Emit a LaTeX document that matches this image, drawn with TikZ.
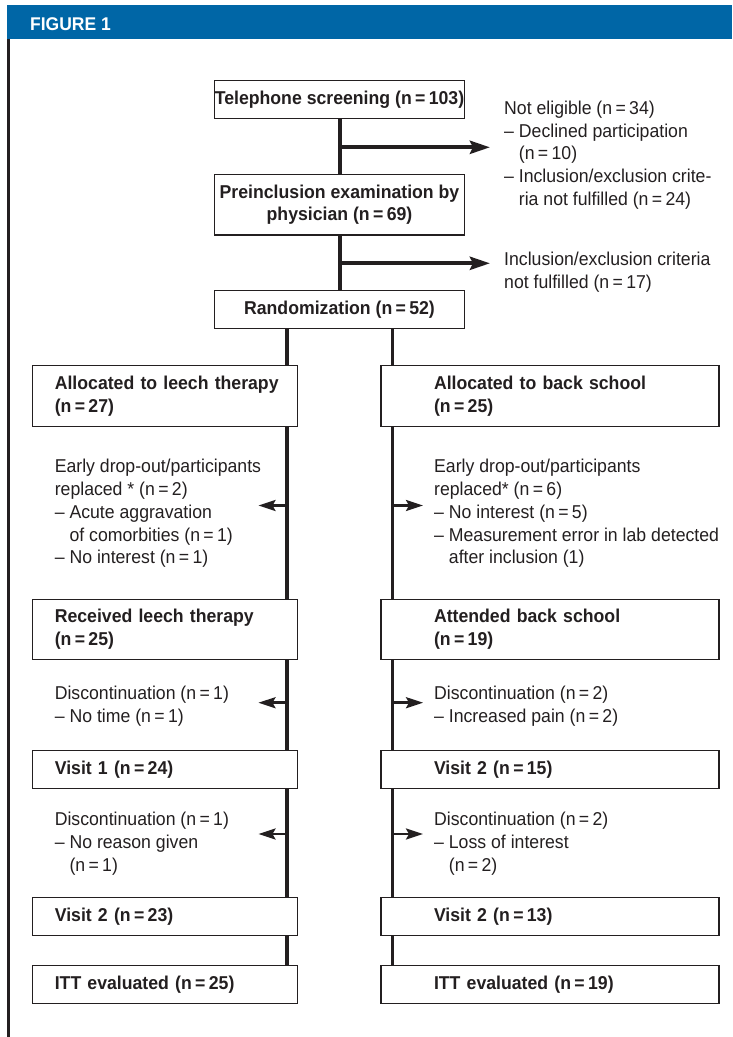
\documentclass[tikz,border=0pt]{standalone}
\usepackage{fontspec}
\setmainfont{Liberation Sans}[FakeStretch=0.95]
\usetikzlibrary{arrows.meta}
\definecolor{hdrblue}{RGB}{0,102,166}
\definecolor{ink}{RGB}{35,31,32}
\newcommand{\eqs}{\kern0.18em=\kern0.18em}
\newcommand{\tstr}{\rule{0pt}{15pt}}
\newcommand{\ind}{\hphantom{– }}
\newcommand{\li}{\hspace*{22.3pt}}
\newcommand{\ri}{\hspace*{53pt}}
\begin{document}
\begin{tikzpicture}[x=1pt,y=-1pt,
  txt/.style={font=\fontsize{18.6pt}{22.8pt}\selectfont, text=ink},
  cbox/.style={txt, draw=ink, line width=1.3pt, fill=white, inner sep=0pt, align=center, font=\fontsize{18.6pt}{22.8pt}\selectfont\bfseries, minimum width=250pt},
  lbox/.style={txt, draw=ink, line width=1.3pt, fill=white, inner sep=0pt, align=left, font=\fontsize{18.6pt}{22.8pt}\selectfont\bfseries, text width=264.8pt},
  rbox/.style={txt, draw=ink, line width=1.3pt, fill=white, inner sep=0pt, align=left, font=\fontsize{18.6pt}{22.8pt}\selectfont\bfseries, text width=338pt},
  note/.style={txt, anchor=north west, inner sep=0pt, align=left},
  trunk/.style={draw=ink, line width=4pt},
  col/.style={draw=ink, line width=3.2pt},
  bigarrow/.style={draw=ink, line width=4pt, -{Stealth[length=20pt,width=13pt,inset=3pt]}},
  smallarrow/.style={draw=ink, line width=2.6pt, -{Stealth[length=17pt,width=11pt,inset=3pt]}}
]
\useasboundingbox (0,0) rectangle (732,1037);
% header
\fill[hdrblue] (6.7,5) rectangle (732,38.5);
\node[anchor=base west, inner sep=0pt, text=white, font=\fontsize{18.4pt}{22pt}\selectfont\bfseries] (fig) at (30,30.7) {FIGURE 1};
\draw[ink, line width=2.7pt] (8.7,38.5) -- (8.7,1037);

% central boxes
\node[cbox, minimum height=38pt] (tel) at (339.5,99.7) {Telephone screening (n\eqs 103)};
\node[cbox, minimum height=60.7pt] (pre) at (339.5,204.7) {Preinclusion examination by\\physician (n\eqs 69)};
\node[cbox, minimum height=38pt] (rand) at (339.5,309.7) {Randomization (n\eqs 52)};

% trunk
\draw[trunk] (tel.south) -- (pre.north);
\draw[trunk] (pre.south) -- (rand.north);
\coordinate (a1s) at (339.5,147.3);
\coordinate (a1e) at (490,147.3);
\coordinate (a2s) at (339.5,263.3);
\coordinate (a2e) at (490,263.3);
\draw[bigarrow] (a1s) -- (a1e);
\draw[bigarrow] (a2s) -- (a2e);

\node[note] (ne) at (504,114-15) {\tstr Not eligible (n\eqs 34)\\– Declined participation\\\ind(n\eqs 10)\\– Inclusion/exclusion crite-\\\ind ria not fulfilled (n\eqs 24)};
\node[note] (inc) at (504,265.5-15) {\tstr Inclusion/exclusion criteria\\not fulfilled (n\eqs 17)};

% column boxes
\node[lbox, minimum height=61pt] (allocL) at (164.9,396.2) {\li Allocated to leech therapy\\\li (n\eqs 27)};
\node[rbox, minimum height=61pt] (allocR) at (550,396.2) {\ri Allocated to back school\\\ri (n\eqs 25)};
\node[lbox, minimum height=60pt] (recvL) at (164.9,629.3) {\li Received leech therapy\\\li (n\eqs 25)};
\node[rbox, minimum height=60pt] (recvR) at (550,629.3) {\ri Attended back school\\\ri (n\eqs 19)};
\node[lbox, minimum height=37.6pt] (v1L) at (164.9,769.5) {\li Visit 1 (n\eqs 24)};
\node[rbox, minimum height=37.6pt] (v1R) at (550,769.5) {\ri Visit 2 (n\eqs 15)};
\node[lbox, minimum height=38pt] (v2L) at (164.9,916.3) {\li Visit 2 (n\eqs 23)};
\node[rbox, minimum height=38pt] (v2R) at (550,916.3) {\ri Visit 2 (n\eqs 13)};
\node[lbox, minimum height=38pt] (ittL) at (164.9,984.3) {\li ITT evaluated (n\eqs 25)};
\node[rbox, minimum height=38pt] (ittR) at (550,984.3) {\ri ITT evaluated (n\eqs 19)};

% column lines
\coordinate (colL) at (287,0);
\coordinate (colR) at (392.5,0);
\draw[col] (rand.south -| colL) -- (allocL.north -| colL);
\draw[col] (allocL.south -| colL) -- (recvL.north -| colL);
\draw[col] (recvL.south -| colL) -- (v1L.north -| colL);
\draw[col] (v1L.south -| colL) -- (v2L.north -| colL);
\draw[col] (v2L.south -| colL) -- (ittL.north -| colL);
\draw[col] (rand.south -| colR) -- (allocR.north -| colR);
\draw[col] (allocR.south -| colR) -- (recvR.north -| colR);
\draw[col] (recvR.south -| colR) -- (v1R.north -| colR);
\draw[col] (v1R.south -| colR) -- (v2R.north -| colR);
\draw[col] (v2R.south -| colR) -- (ittR.north -| colR);

% side arrows
\coordinate (l1s) at (287,505.5);   \coordinate (l1e) at (258.5,505.5);
\coordinate (r1s) at (392.5,505.5); \coordinate (r1e) at (423,505.5);
\coordinate (l2s) at (287,702.7);   \coordinate (l2e) at (258.5,702.7);
\coordinate (r2s) at (392.5,702.7); \coordinate (r2e) at (423,702.7);
\coordinate (l3s) at (287,834);     \coordinate (l3e) at (258.5,834);
\coordinate (r3s) at (392.5,834);   \coordinate (r3e) at (423,834);
\draw[smallarrow] (l1s) -- (l1e);
\draw[smallarrow] (r1s) -- (r1e);
\draw[smallarrow] (l2s) -- (l2e);
\draw[smallarrow] (r2s) -- (r2e);
\draw[smallarrow] (l3s) -- (l3e);
\draw[smallarrow] (r3s) -- (r3e);

% side notes
\node[note] (dL1) at (54.6,472.5-15) {\tstr Early drop-out/participants\\replaced * (n\eqs 2)\\– Acute aggravation\\\ind of comorbities (n\eqs 1)\\– No interest (n\eqs 1)};
\node[note] (dR1) at (434,472.5-15) {\tstr Early drop-out/participants\\replaced* (n\eqs 6)\\– No interest (n\eqs 5)\\– Measurement error in lab detected\\\ind after inclusion (1)};
\node[note] (dL2) at (54.6,699-15) {\tstr Discontinuation (n\eqs 1)\\– No time (n\eqs 1)};
\node[note] (dR2) at (434,699-15) {\tstr Discontinuation (n\eqs 2)\\– Increased pain (n\eqs 2)};
\node[note] (dL3) at (54.6,825.6-15) {\tstr Discontinuation (n\eqs 1)\\– No reason given\\\ind(n\eqs 1)};
\node[note] (dR3) at (434,825.6-15) {\tstr Discontinuation (n\eqs 2)\\– Loss of interest\\\ind(n\eqs 2)};
\end{tikzpicture}
\end{document}
